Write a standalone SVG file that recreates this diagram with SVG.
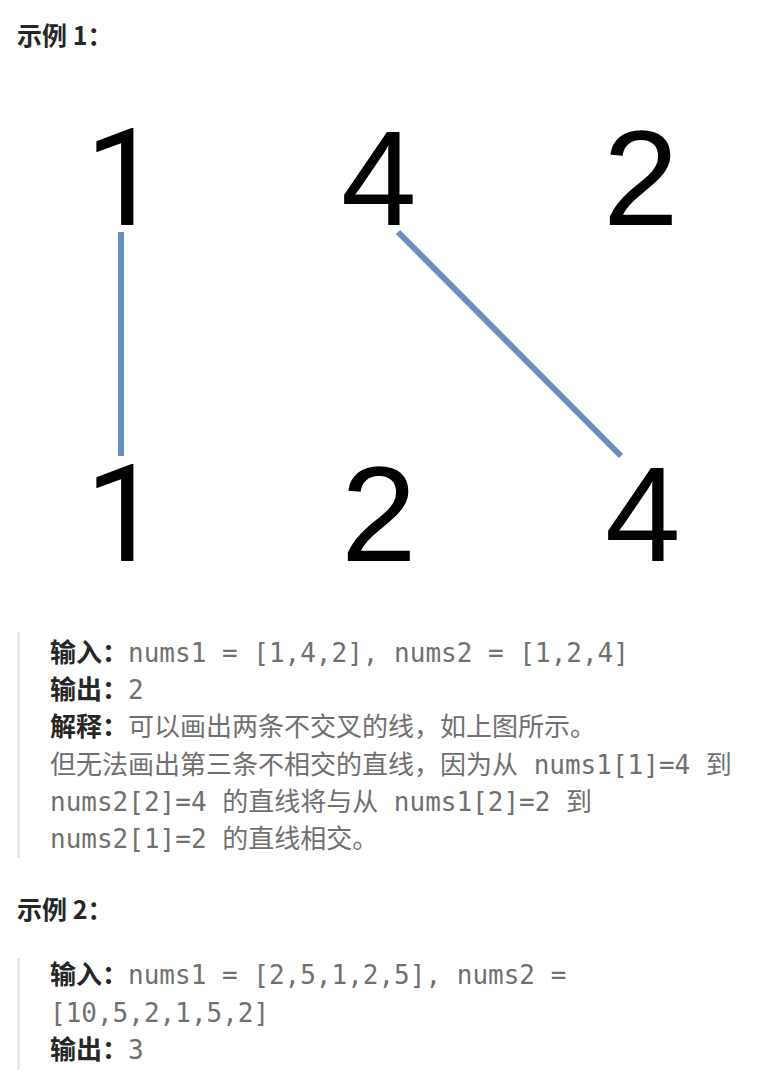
<svg xmlns="http://www.w3.org/2000/svg" width="766" height="1080" viewBox="0 0 766 1080">
  <style>
    .num { font-size: 136px; fill: #000; }
    .lib { font-family: "Liberation Sans", sans-serif; }
    .rob { font-family: Roboto, sans-serif; }
    .title { font-family: "Noto Sans CJK SC", sans-serif; font-size: 25px; font-weight: bold; fill: #262626; }
    .body { font-family: "DejaVu Sans Mono", "Noto Sans CJK SC", monospace; font-size: 26px; fill: #707070; }
    .lbl { font-family: "Noto Sans CJK SC", sans-serif; font-weight: bold; fill: #262626; }
    .conn { stroke: #6c8ebf; stroke-width: 6; fill: none; stroke-linecap: butt; }
    .bar { fill: #e8e8e8; }
  </style>
  <rect width="766" height="1080" fill="#ffffff"/>

  <text class="title" x="17" y="45">示例 1：</text>

  <g id="top-1"><text class="num rob" x="85" y="225">1</text></g>
  <g id="top-4"><text class="num lib" x="341" y="225">4</text></g>
  <g id="top-2"><text class="num lib" x="603" y="225">2</text></g>
  <g id="bottom-1"><text class="num rob" x="85" y="561">1</text></g>
  <g id="bottom-2"><text class="num lib" x="341" y="561">2</text></g>
  <g id="bottom-4"><text class="num lib" x="605" y="561">4</text></g>

  <g id="connectors">
    <line class="conn" x1="121" y1="232" x2="121" y2="456"/>
    <line class="conn" x1="398" y1="232" x2="621" y2="456"/>
  </g>

  <g id="example1-text">
    <rect class="bar" x="17" y="632" width="3" height="226"/>
    <text class="body" x="50" y="662"><tspan class="lbl">输入：</tspan>nums1 = [1,4,2], nums2 = [1,2,4]</text>
    <text class="body" x="50" y="699"><tspan class="lbl">输出：</tspan>2</text>
    <text class="body" x="50" y="736"><tspan class="lbl">解释：</tspan>可以画出两条不交叉的线，如上图所示。</text>
    <text class="body" x="50" y="774">但无法画出第三条不相交的直线，因为从 nums1[1]=4 到</text>
    <text class="body" x="50" y="811">nums2[2]=4 的直线将与从 nums1[2]=2 到</text>
    <text class="body" x="50" y="848">nums2[1]=2 的直线相交。</text>
  </g>

  <text class="title" x="17" y="919">示例 2：</text>

  <g id="example2-text">
    <rect class="bar" x="17" y="958" width="3" height="112"/>
    <text class="body" x="50" y="984"><tspan class="lbl">输入：</tspan>nums1 = [2,5,1,2,5], nums2 =</text>
    <text class="body" x="50" y="1022">[10,5,2,1,5,2]</text>
    <text class="body" x="50" y="1059"><tspan class="lbl">输出：</tspan>3</text>
  </g>
</svg>
